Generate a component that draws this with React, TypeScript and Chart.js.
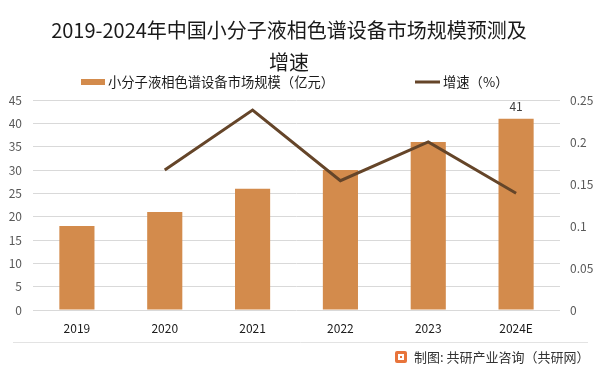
import React, { useEffect, useRef } from "react";
import { Chart, registerables } from "chart.js";

Chart.register(...registerables);

const categories = ["2019", "2020", "2021", "2022", "2023", "2024E"];
const marketSize = [18, 21, 26, 30, 36, 41];
const growthRate = [null, 0.1667, 0.238, 0.154, 0.2, 0.139];
const titleLines = ["2019-2024年中国小分子液相色谱设备市场规模预测及", "增速"];
const barLabel = "小分子液相色谱设备市场规模（亿元）";
const lineLabel = "增速（%）";
const footerText = "制图: 共研产业咨询（共研网）";

const FONT = "'Noto Sans CJK SC', 'Noto Sans', sans-serif";
const BAR_COLOR = "#D38B4C";
const LINE_COLOR = "#654529";

const decorPlugin = {
  id: "decor",
  afterDraw(chart: any) {
    const ctx = chart.ctx as CanvasRenderingContext2D;
    ctx.save();
    // title
    ctx.fillStyle = "#1a1a1a";
    ctx.font = `20px ${FONT}`;
    ctx.textAlign = "center";
    ctx.textBaseline = "middle";
    ctx.fillText(titleLines[0], 289, 30);
    ctx.fillText(titleLines[1], 289, 62);
    // legend
    ctx.fillStyle = BAR_COLOR;
    ctx.fillRect(81, 79, 24, 6);
    ctx.font = `13.3px ${FONT}`;
    ctx.textAlign = "left";
    ctx.fillStyle = "#1a1a1a";
    ctx.fillText(barLabel, 108, 82);
    ctx.strokeStyle = LINE_COLOR;
    ctx.lineWidth = 3;
    ctx.beginPath();
    ctx.moveTo(415, 82);
    ctx.lineTo(440, 82);
    ctx.stroke();
    ctx.fillText(lineLabel, 443, 82);
    // data label on last bar
    const meta = chart.getDatasetMeta(0);
    const last = meta.data[meta.data.length - 1];
    ctx.font = `12px ${FONT}`;
    ctx.fillStyle = "#404040";
    ctx.textAlign = "center";
    ctx.fillText(String(marketSize[marketSize.length - 1]), last.x, last.y - 12);
    // separator
    ctx.strokeStyle = "#e3e3e3";
    ctx.lineWidth = 1;
    ctx.beginPath();
    ctx.moveTo(13, 342.5);
    ctx.lineTo(588, 342.5);
    ctx.stroke();
    // footer logo
    ctx.fillStyle = "#E8743B";
    ctx.beginPath();
    ctx.roundRect(395, 351, 12, 12, 2);
    ctx.fill();
    ctx.fillStyle = "#ffffff";
    ctx.fillRect(398, 354, 6, 2);
    ctx.fillRect(398, 354, 2, 6);
    ctx.fillRect(398, 358, 6, 2);
    ctx.fillRect(402, 356, 2, 3);
    ctx.fillStyle = "#333333";
    ctx.font = `13px ${FONT}`;
    ctx.textAlign = "left";
    ctx.fillText(footerText, 414, 357);
    ctx.restore();
  },
};

export default function App() {
  const ref = useRef<HTMLCanvasElement>(null);
  useEffect(() => {
    if (!ref.current) return;
    const chart = new Chart(ref.current, {
      type: "bar",
      data: {
        labels: categories,
        datasets: [
          {
            type: "bar",
            label: barLabel,
            data: marketSize,
            backgroundColor: BAR_COLOR,
            yAxisID: "y",
            barPercentage: 0.5,
            categoryPercentage: 0.8,
            order: 2,
          },
          {
            type: "line",
            label: lineLabel,
            data: growthRate as any,
            borderColor: LINE_COLOR,
            borderWidth: 3,
            pointRadius: 0,
            tension: 0,
            yAxisID: "y1",
            order: 1,
          },
        ],
      },
      options: {
        responsive: false,
        animation: false,
        layout: { padding: { top: 100, left: 0, right: 0, bottom: 0 } },
        plugins: {
          legend: { display: false },
          title: { display: false },
          tooltip: { enabled: false },
        },
        scales: {
          x: {
            grid: { display: false, drawTicks: false },
            border: { display: false },
            ticks: { color: "#1a1a1a", font: { size: 12, family: FONT }, padding: 11 },
            afterFit: (s: any) => { s.height = 64; },
          },
          y: {
            position: "left",
            min: 0,
            max: 45,
            ticks: { stepSize: 5, color: "#595959", font: { size: 12, family: FONT }, padding: 11 },
            grid: { color: "#d9d9d9", drawTicks: false },
            border: { display: false },
            afterFit: (s: any) => { s.width = 33; },
          },
          y1: {
            position: "right",
            min: 0,
            max: 0.25,
            ticks: { stepSize: 0.05, color: "#595959", font: { size: 12, family: FONT }, padding: 10,
              callback: (v: any) => String(Math.round(Number(v) * 100) / 100) },
            grid: { display: false, drawTicks: false },
            border: { display: false },
            afterFit: (s: any) => { s.width = 40; },
          },
        },
      },
      plugins: [decorPlugin],
    });
    return () => chart.destroy();
  }, []);
  return (
    <div style={{ position: "fixed", left: 0, top: 0, width: 600, height: 374, background: "#fff" }}>
      <canvas ref={ref} width={600} height={374} style={{ width: 600, height: 374, display: "block" }} />
    </div>
  );
}
